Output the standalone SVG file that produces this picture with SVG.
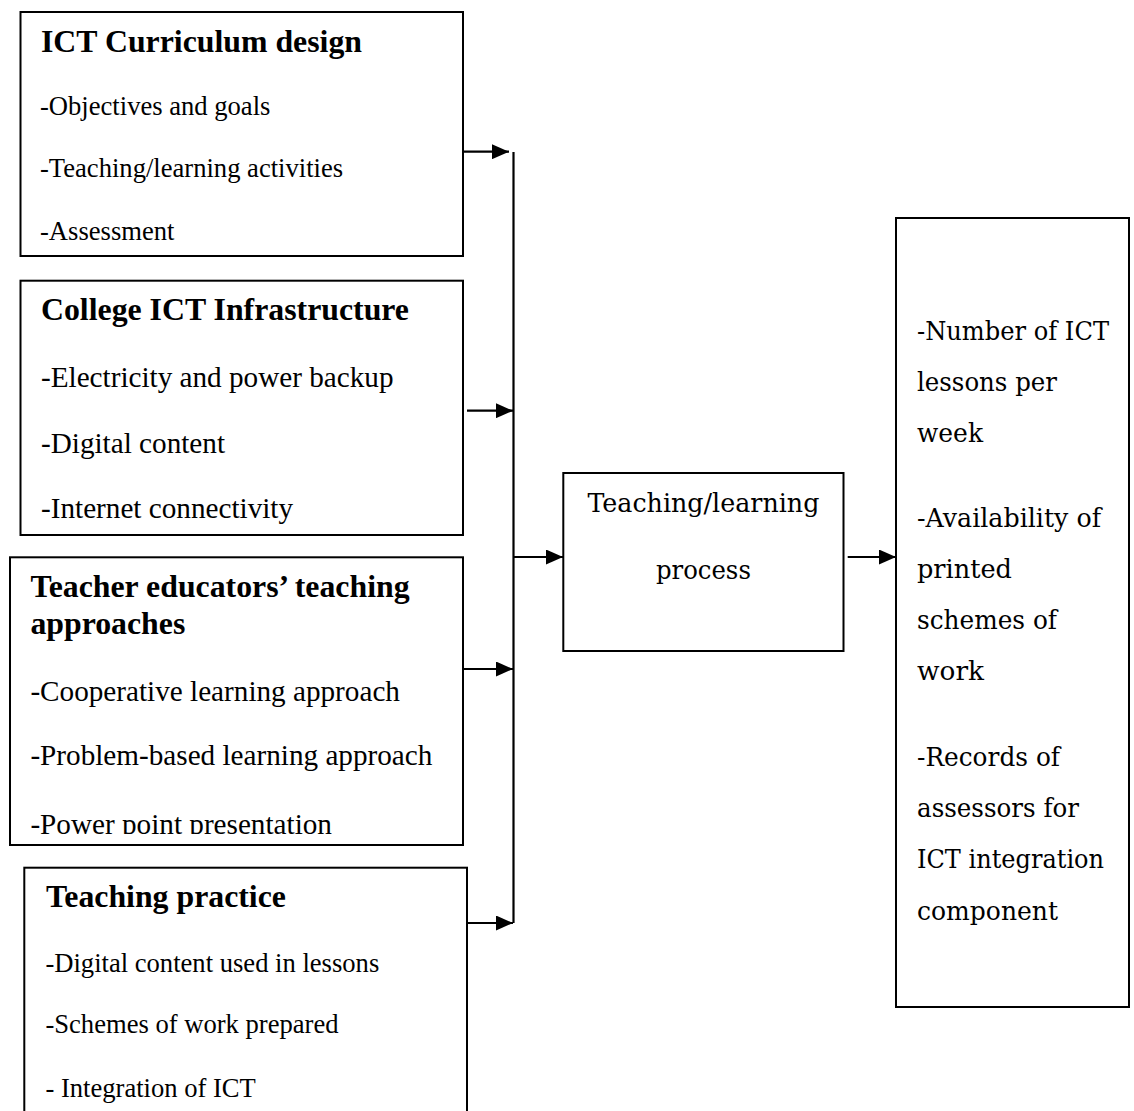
<svg xmlns="http://www.w3.org/2000/svg" width="1134" height="1111" viewBox="0 0 1134 1111">
  <style>
    .box { fill: #ffffff; stroke: #000000; stroke-width: 2; }
    .head { font-family: "Liberation Serif", "Times New Roman", serif; font-weight: bold; font-size: 31.8px; fill: #000000; }
    .item { font-family: "Liberation Serif", "Times New Roman", serif; font-size: 26.6px; fill: #000000; }
    .item-lg { font-family: "Liberation Serif", "Times New Roman", serif; font-size: 29.2px; fill: #000000; }
    .cam { font-family: "DejaVu Serif", "Liberation Serif", serif; font-size: 25.5px; fill: #000000; }
    .wire { fill: none; stroke: #000000; stroke-width: 2.2; }
  </style>
  <defs>
    <marker id="arrow" markerUnits="userSpaceOnUse" markerWidth="17" markerHeight="15" refX="17" refY="7.5" orient="auto">
      <path d="M0,0 L17,7.5 L0,15 Z" fill="#000000"/>
    </marker>
    <clipPath id="clip-approaches">
      <rect x="10" y="557" width="453" height="277"/>
    </clipPath>
  </defs>

  <rect width="1134" height="1111" fill="#ffffff"/>

  <!-- Input: curriculum design -->
  <g id="curriculum-design">
    <rect class="box" x="20.5" y="12" width="442.5" height="244"/>
    <text class="head" x="41" y="51.7">ICT Curriculum design</text>
    <text class="item" x="40" y="115">-Objectives and goals</text>
    <text class="item" x="40" y="177">-Teaching/learning activities</text>
    <text class="item" x="40" y="240">-Assessment</text>
  </g>

  <!-- Input: college infrastructure -->
  <g id="college-infrastructure">
    <rect class="box" x="20.5" y="280.7" width="442.5" height="254.3"/>
    <text class="head" x="41" y="320">College ICT Infrastructure</text>
    <text class="item-lg" x="41" y="387">-Electricity and power backup</text>
    <text class="item-lg" x="41" y="452.7">-Digital content</text>
    <text class="item-lg" x="41" y="518">-Internet connectivity</text>
  </g>

  <!-- Input: teaching approaches (last line clipped by the frame margin) -->
  <g id="teaching-approaches">
    <rect class="box" x="10" y="557.3" width="453" height="287.7"/>
    <text class="head" x="30.4" y="597.3">Teacher educators’ teaching</text>
    <text class="head" x="30.4" y="634">approaches</text>
    <g clip-path="url(#clip-approaches)">
      <text class="item-lg" x="30.4" y="700.7">-Cooperative learning approach</text>
      <text class="item-lg" x="30.4" y="765">-Problem-based learning approach</text>
      <text class="item-lg" x="30.4" y="834">-Power point presentation</text>
    </g>
  </g>

  <!-- Input: teaching practice (runs off the bottom edge) -->
  <g id="teaching-practice">
    <rect class="box" x="24.3" y="867.7" width="442.7" height="260"/>
    <text class="head" x="46" y="907.3">Teaching practice</text>
    <text class="item" x="45.4" y="971.7">-Digital content used in lessons</text>
    <text class="item" x="45.4" y="1032.7">-Schemes of work prepared</text>
    <text class="item" x="45.4" y="1096.7">- Integration of ICT</text>
  </g>

  <!-- Process -->
  <g id="process">
    <rect class="box" x="563.3" y="473" width="280.2" height="178"/>
    <text class="cam" x="703.4" y="511.7" text-anchor="middle" textLength="232" lengthAdjust="spacingAndGlyphs">Teaching/learning</text>
    <text class="cam" x="703.4" y="579" text-anchor="middle" textLength="95" lengthAdjust="spacingAndGlyphs">process</text>
  </g>

  <!-- Output indicators -->
  <g id="outputs">
    <rect class="box" x="896" y="218" width="233" height="789"/>
    <text class="cam" x="917" y="340" textLength="192" lengthAdjust="spacingAndGlyphs">-Number of ICT</text>
    <text class="cam" x="917" y="391" textLength="140" lengthAdjust="spacingAndGlyphs">lessons per</text>
    <text class="cam" x="917" y="442" textLength="66" lengthAdjust="spacingAndGlyphs">week</text>
    <text class="cam" x="917" y="527" textLength="184" lengthAdjust="spacingAndGlyphs">-Availability of</text>
    <text class="cam" x="917" y="578" textLength="95" lengthAdjust="spacingAndGlyphs">printed</text>
    <text class="cam" x="917" y="629" textLength="140" lengthAdjust="spacingAndGlyphs">schemes of</text>
    <text class="cam" x="917" y="680" textLength="67" lengthAdjust="spacingAndGlyphs">work</text>
    <text class="cam" x="917" y="766" textLength="143" lengthAdjust="spacingAndGlyphs">-Records of</text>
    <text class="cam" x="917" y="817" textLength="162" lengthAdjust="spacingAndGlyphs">assessors for</text>
    <text class="cam" x="917" y="868" textLength="187" lengthAdjust="spacingAndGlyphs">ICT integration</text>
    <text class="cam" x="917" y="920" textLength="141" lengthAdjust="spacingAndGlyphs">component</text>
  </g>

  <!-- Connectors -->
  <g id="connectors">
    <line class="wire" x1="513.5" y1="152" x2="513.5" y2="923"/>
    <line class="wire" x1="463" y1="151.7" x2="509" y2="151.7" marker-end="url(#arrow)"/>
    <line class="wire" x1="467" y1="410.7" x2="513" y2="410.7" marker-end="url(#arrow)"/>
    <line class="wire" x1="463" y1="669" x2="513" y2="669" marker-end="url(#arrow)"/>
    <line class="wire" x1="467" y1="923" x2="513" y2="923" marker-end="url(#arrow)"/>
    <line class="wire" x1="513.5" y1="557" x2="563" y2="557" marker-end="url(#arrow)"/>
    <line class="wire" x1="847.7" y1="557" x2="896" y2="557" marker-end="url(#arrow)"/>
  </g>
</svg>
